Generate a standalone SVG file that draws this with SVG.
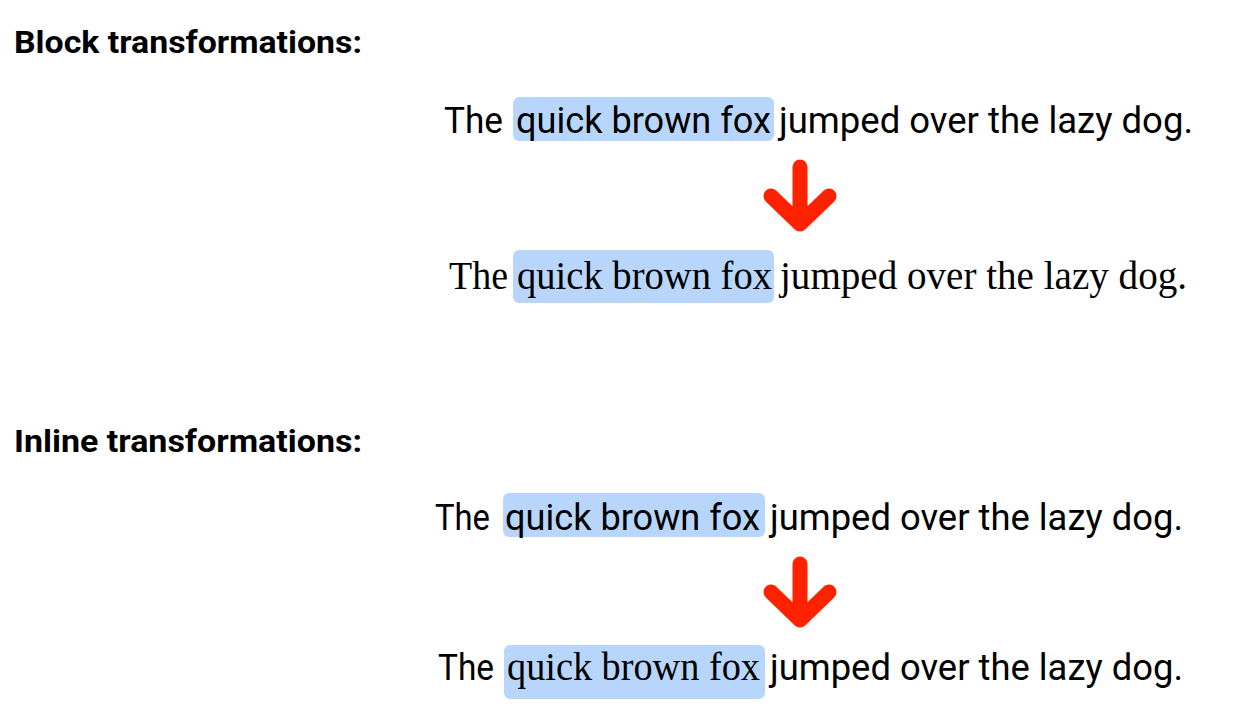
<svg xmlns="http://www.w3.org/2000/svg" width="1233" height="716" viewBox="0 0 1233 716">
<style>
.title{font-family:Roboto,"Liberation Sans",sans-serif;font-weight:bold;font-size:32px;fill:#000}
.r{font-family:Roboto,"Liberation Sans",sans-serif;font-size:37px;fill:#000}
.c{font-family:"Liberation Serif","DejaVu Serif",serif;font-size:39px;fill:#000}
.hl{fill:#b8d6fc}
.arrow{fill:none;stroke:#ff2200;stroke-width:15;stroke-linecap:round;stroke-linejoin:round}
</style>
<rect width="1233" height="716" fill="#fff"/>
<g id="title-block"><text class="title" x="14" y="53" textLength="348" lengthAdjust="spacingAndGlyphs">Block transformations:</text></g>
<g id="block-before">
<rect class="hl" x="513" y="97" width="261" height="44" rx="6"/>
<text class="r" x="444" y="133" textLength="59" lengthAdjust="spacingAndGlyphs">The</text>
<text class="r" x="516" y="133" textLength="255" lengthAdjust="spacingAndGlyphs">quick brown fox</text>
<text class="r" x="779" y="133" textLength="414" lengthAdjust="spacingAndGlyphs">jumped over the lazy dog.</text>
</g>
<g id="block-after">
<rect class="hl" x="513" y="250" width="261" height="53" rx="6"/>
<text class="c" x="449" y="289" textLength="59" lengthAdjust="spacingAndGlyphs">The</text>
<text class="c" x="517" y="289" textLength="255" lengthAdjust="spacingAndGlyphs">quick brown fox</text>
<text class="c" x="780" y="289" textLength="407" lengthAdjust="spacingAndGlyphs">jumped over the lazy dog.</text>
</g>
<g id="title-inline"><text class="title" x="14" y="452" textLength="348" lengthAdjust="spacingAndGlyphs">Inline transformations:</text></g>
<g id="inline-before">
<rect class="hl" x="503" y="493" width="262" height="44" rx="6"/>
<text class="r" x="435" y="530" textLength="55" lengthAdjust="spacingAndGlyphs">The</text>
<text class="r" x="505" y="530" textLength="255" lengthAdjust="spacingAndGlyphs">quick brown fox</text>
<text class="r" x="770" y="530" textLength="413" lengthAdjust="spacingAndGlyphs">jumped over the lazy dog.</text>
</g>
<g id="inline-after">
<rect class="hl" x="504" y="645" width="261" height="54" rx="6"/>
<text class="r" x="438" y="680" textLength="56" lengthAdjust="spacingAndGlyphs">The</text>
<text class="c" x="507" y="680" textLength="253" lengthAdjust="spacingAndGlyphs">quick brown fox</text>
<text class="r" x="770" y="680" textLength="413" lengthAdjust="spacingAndGlyphs">jumped over the lazy dog.</text>
</g>
<g id="connectors">
<path class="arrow" d="M800 167V224M771 196L800 224L829 196"/>
<path class="arrow" d="M800 564V620M771 592L800 620L829 592"/>
</g>
</svg>
